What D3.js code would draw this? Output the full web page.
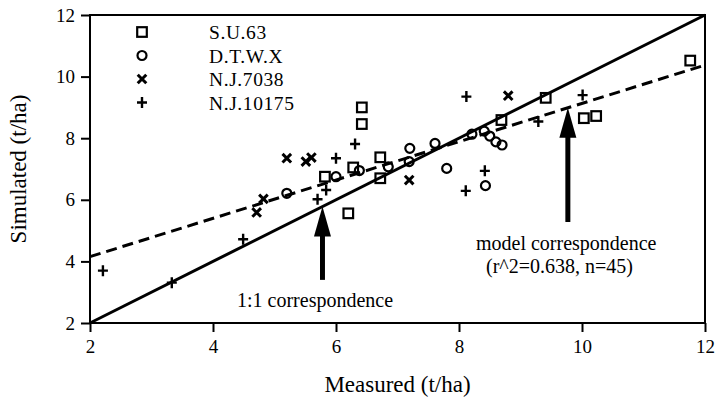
<!DOCTYPE html>
<html>
<meta charset="utf-8">
<style>
  body{ margin:0; background:#fff }
  text{ font-family:'Liberation Serif', 'Times New Roman', serif; fill:#000 }
  .tick text{ font-size:19px }
  .axis path, .axis line{ stroke:#000; stroke-width:2px }
</style>
<body>
<script src="https://cdn.jsdelivr.net/npm/d3@7"></script>
<script>
  var xTicks = [2, 4, 6, 8, 10, 12]
  var yTicks = [2, 4, 6, 8, 10, 12]

  // Measured, Simulated pairs per cultivar
  var su63 = [[6.42, 9.00], [6.42, 8.46], [6.72, 7.38], [6.28, 7.05], [6.72, 6.70], [6.20, 5.56],
              [5.82, 6.75], [8.69, 8.59], [9.41, 9.31], [10.03, 8.65], [10.23, 8.72], [11.76, 10.52]]
  var dtwx = [[5.20, 6.21], [6.00, 6.75], [6.38, 6.95], [6.85, 7.07], [7.20, 7.67], [7.19, 7.24],
              [7.61, 7.83], [7.80, 7.02], [8.21, 8.13], [8.41, 8.23], [8.50, 8.07], [8.60, 7.88],
              [8.70, 7.78], [8.43, 6.46]]
  var nj7038 = [[5.20, 7.35], [5.51, 7.24], [5.60, 7.37], [4.82, 6.03], [4.71, 5.59], [7.19, 6.64], [8.80, 9.38]]
  var nj10175 = [[2.21, 3.70], [3.33, 3.31], [4.49, 4.72], [5.70, 6.02], [5.84, 6.32], [6.00, 7.35],
                 [6.31, 7.81], [8.12, 9.35], [9.29, 8.54], [10.01, 9.40], [8.42, 6.94], [8.11, 6.29]]

  var series = [
    {name:'S.U.63', shape:'square', pts:su63},
    {name:'D.T.W.X', shape:'circle', pts:dtwx},
    {name:'N.J.7038', shape:'cross', pts:nj7038},
    {name:'N.J.10175', shape:'plus', pts:nj10175}
  ]

  // fitted model line: Simulated = a + b * Measured
  var fitA = 2.91, fitB = 0.622

  var svg = d3.select('body').append('svg').attr('width', 716).attr('height', 401)

  var x = d3.scaleLinear().domain([2, 12]).range([90, 705])
  var y = d3.scaleLinear().domain([2, 12]).range([323, 15])

  // box
  svg.append('rect').attr('x', x(2)).attr('y', y(12))
    .attr('width', x(12) - x(2)).attr('height', y(2) - y(12))
    .attr('fill', 'none').attr('stroke', '#000').attr('stroke-width', 2)

  svg.append('g').attr('class', 'axis').attr('transform', 'translate(0,' + y(2) + ')')
    .call(d3.axisBottom(x).tickValues(xTicks).tickSize(9).tickPadding(8).tickFormat(d3.format('d')))
  svg.append('g').attr('class', 'axis').attr('transform', 'translate(' + x(2) + ',0)')
    .call(d3.axisLeft(y).tickValues(yTicks).tickSize(9).tickPadding(6).tickFormat(d3.format('d')))
  svg.selectAll('.axis .domain').remove()
  svg.selectAll('.axis text').attr('font-family', null).attr('font-size', null)

  // 1:1 line and model line
  svg.append('line').attr('x1', x(2)).attr('y1', y(2)).attr('x2', x(12)).attr('y2', y(12))
    .attr('stroke', '#000').attr('stroke-width', 3)
  svg.append('line').attr('x1', x(2)).attr('y1', y(fitA + fitB * 2))
    .attr('x2', x(12)).attr('y2', y(fitA + fitB * 12))
    .attr('stroke', '#000').attr('stroke-width', 3).attr('stroke-dasharray', '11,6')

  function drawMarker(g, shape){
    if(shape === 'square'){
      g.append('rect').attr('x', -4.8).attr('y', -4.8).attr('width', 9.6).attr('height', 9.6)
        .attr('fill', 'none').attr('stroke', '#000').attr('stroke-width', 2.2)
    }else if(shape === 'circle'){
      g.append('circle').attr('r', 4.5).attr('fill', 'none').attr('stroke', '#000').attr('stroke-width', 2.2)
    }else if(shape === 'cross'){
      g.append('path').attr('d', 'M-4.3,-4.3L4.3,4.3M-4.3,4.3L4.3,-4.3').attr('stroke', '#000').attr('stroke-width', 3)
    }else{
      g.append('path').attr('d', 'M-5,0H5M0,-5.5V5.5').attr('stroke', '#000').attr('stroke-width', 2.4)
    }
  }

  series.forEach(function(s){
    svg.append('g').selectAll('g').data(s.pts).join('g')
      .attr('transform', d => 'translate(' + x(d[0]) + ',' + y(d[1]) + ')')
      .each(function(){ drawMarker(d3.select(this), s.shape) })
  })

  // legend
  var leg = svg.append('g').selectAll('g').data(series).join('g')
    .attr('transform', (d, i) => 'translate(142,' + (32 + i * 23.5) + ')')
  leg.each(function(d){ drawMarker(d3.select(this), d.shape) })
  leg.append('text').attr('x', 67).attr('y', 7).style('font-size', '19.5px')
    .style('letter-spacing', '0.6px').text(d => d.name)

  // arrows
  function arrow(mx, yTop, yBot){
    var px = x(mx), t = y(yTop), b = y(yBot)
    svg.append('line').attr('x1', px).attr('x2', px).attr('y1', t + 20).attr('y2', b)
      .attr('stroke', '#000').attr('stroke-width', 5)
    svg.append('path').attr('d', 'M' + px + ',' + t + 'L' + (px - 8.5) + ',' + (t + 30) +
      'L' + (px + 8.5) + ',' + (t + 30) + 'Z').attr('fill', '#000')
  }
  arrow(5.78, 5.78, 3.4)
  arrow(9.77, fitA + fitB * 9.77, 5.28)

  svg.append('text').attr('x', 237).attr('y', 307).style('font-size', '20px').text('1:1 correspondence')
  svg.append('text').attr('x', 476).attr('y', 250).style('font-size', '20px').text('model correspondence')
  svg.append('text').attr('x', 486).attr('y', 273).style('font-size', '20px').text('(r^2=0.638, n=45)')

  // axis titles
  svg.append('text').attr('x', (x(2) + x(12)) / 2).attr('y', 392).attr('text-anchor', 'middle')
    .style('font-size', '23px').text('Measured (t/ha)')
  svg.append('text').attr('transform', 'translate(26,' + (y(2) + y(12)) / 2 + ') rotate(-90)')
    .attr('text-anchor', 'middle').style('font-size', '23px').text('Simulated (t/ha)')
</script>
</body>
</html>
